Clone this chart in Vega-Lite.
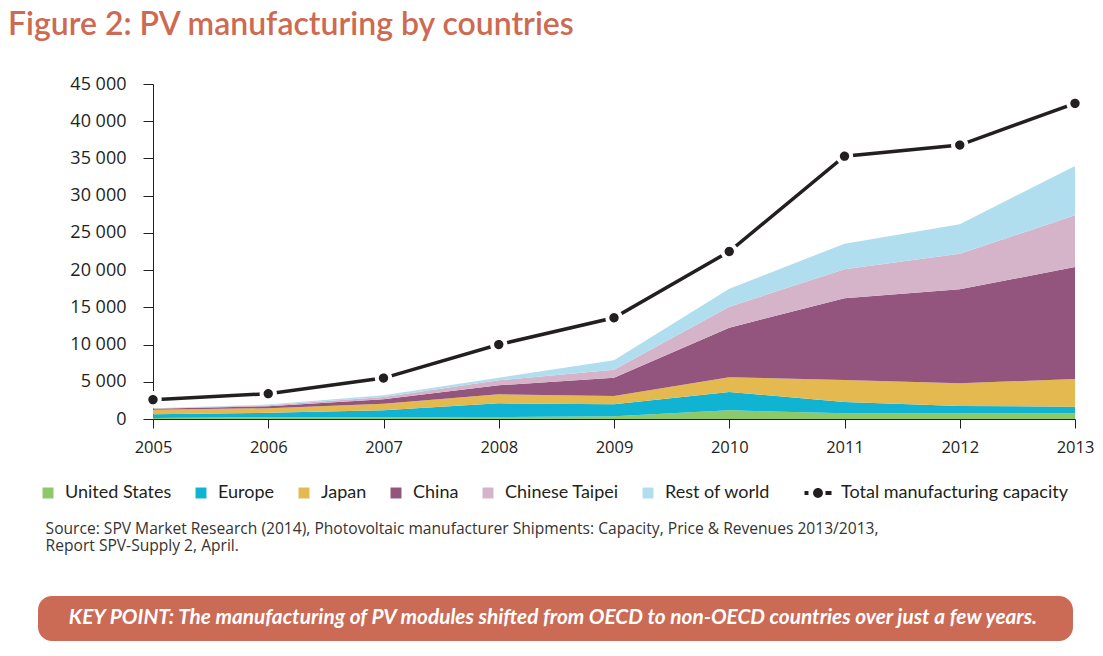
{
  "$schema": "https://vega.github.io/schema/vega-lite/v6.json",
  "background": "white",
  "padding": {"left": 8, "top": 9, "right": 5, "bottom": 5},
  "config": {
    "view": {"stroke": null},
    "font": "Lato"
  },
  "title": {
    "text": "Figure 2: PV manufacturing by countries",
    "anchor": "start",
    "font": "Lato",
    "fontSize": 32,
    "fontWeight": 600,
    "color": "#CD6A52",
    "offset": 33,
    "dx": -30
  },
  "datasets": {
    "regions": [
      {"year": 2005, "region": "United States", "value": 150},
      {"year": 2005, "region": "Europe", "value": 500},
      {"year": 2005, "region": "Japan", "value": 590},
      {"year": 2005, "region": "China", "value": 130},
      {"year": 2005, "region": "Chinese Taipei", "value": 40},
      {"year": 2005, "region": "Rest of world", "value": 40},
      {"year": 2006, "region": "United States", "value": 240},
      {"year": 2006, "region": "Europe", "value": 590},
      {"year": 2006, "region": "Japan", "value": 620},
      {"year": 2006, "region": "China", "value": 270},
      {"year": 2006, "region": "Chinese Taipei", "value": 130},
      {"year": 2006, "region": "Rest of world", "value": 100},
      {"year": 2007, "region": "United States", "value": 230},
      {"year": 2007, "region": "Europe", "value": 940},
      {"year": 2007, "region": "Japan", "value": 890},
      {"year": 2007, "region": "China", "value": 590},
      {"year": 2007, "region": "Chinese Taipei", "value": 310},
      {"year": 2007, "region": "Rest of world", "value": 220},
      {"year": 2008, "region": "United States", "value": 270},
      {"year": 2008, "region": "Europe", "value": 1840},
      {"year": 2008, "region": "Japan", "value": 1210},
      {"year": 2008, "region": "China", "value": 1210},
      {"year": 2008, "region": "Chinese Taipei", "value": 670},
      {"year": 2008, "region": "Rest of world", "value": 350},
      {"year": 2009, "region": "United States", "value": 360},
      {"year": 2009, "region": "Europe", "value": 1610},
      {"year": 2009, "region": "Japan", "value": 1120},
      {"year": 2009, "region": "China", "value": 2460},
      {"year": 2009, "region": "Chinese Taipei", "value": 1070},
      {"year": 2009, "region": "Rest of world", "value": 1270},
      {"year": 2010, "region": "United States", "value": 1170},
      {"year": 2010, "region": "Europe", "value": 2460},
      {"year": 2010, "region": "Japan", "value": 1970},
      {"year": 2010, "region": "China", "value": 6670},
      {"year": 2010, "region": "Chinese Taipei", "value": 2820},
      {"year": 2010, "region": "Rest of world", "value": 2410},
      {"year": 2011, "region": "United States", "value": 770},
      {"year": 2011, "region": "Europe", "value": 1510},
      {"year": 2011, "region": "Japan", "value": 2960},
      {"year": 2011, "region": "China", "value": 10970},
      {"year": 2011, "region": "Chinese Taipei", "value": 3900},
      {"year": 2011, "region": "Rest of world", "value": 3440},
      {"year": 2012, "region": "United States", "value": 770},
      {"year": 2012, "region": "Europe", "value": 980},
      {"year": 2012, "region": "Japan", "value": 3050},
      {"year": 2012, "region": "China", "value": 12620},
      {"year": 2012, "region": "Chinese Taipei", "value": 4780},
      {"year": 2012, "region": "Rest of world", "value": 3950},
      {"year": 2013, "region": "United States", "value": 770},
      {"year": 2013, "region": "Europe", "value": 880},
      {"year": 2013, "region": "Japan", "value": 3720},
      {"year": 2013, "region": "China", "value": 15050},
      {"year": 2013, "region": "Chinese Taipei", "value": 6940},
      {"year": 2013, "region": "Rest of world", "value": 6630}
    ],
    "totals": [
      {"year": 2005, "series": "Total manufacturing capacity", "total": 2600},
      {"year": 2006, "series": "Total manufacturing capacity", "total": 3400},
      {"year": 2007, "series": "Total manufacturing capacity", "total": 5500},
      {"year": 2008, "series": "Total manufacturing capacity", "total": 10000},
      {"year": 2009, "series": "Total manufacturing capacity", "total": 13600},
      {"year": 2010, "series": "Total manufacturing capacity", "total": 22500},
      {"year": 2011, "series": "Total manufacturing capacity", "total": 35300},
      {"year": 2012, "series": "Total manufacturing capacity", "total": 36800},
      {"year": 2013, "series": "Total manufacturing capacity", "total": 42400}
    ],
    "notes": [
      {"year": 2005, "total": 2600, "source": "Source: SPV Market Research (2014), Photovoltaic manufacturer Shipments: Capacity, Price & Revenues 2013/2013,|Report SPV-Supply 2, April.", "keypoint": "KEY POINT: The manufacturing of PV modules shifted from OECD to non-OECD countries over just a few years."}
    ]
  },
  "width": 922,
  "height": 335,
  "layer": [
    {
      "data": {"name": "regions"},
      "transform": [
        {"calculate": "indexof(['United States','Europe','Japan','China','Chinese Taipei','Rest of world'], datum.region)", "as": "stackorder"}
      ],
      "mark": {"type": "area", "interpolate": "linear"},
      "encoding": {
        "x": {
          "field": "year", "type": "quantitative",
          "scale": {"domain": [2005, 2013], "nice": false, "zero": false},
          "axis": {
            "title": null, "values": [2005, 2006, 2007, 2008, 2009, 2010, 2011, 2012, 2013],
            "format": "d", "grid": false, "labelFont": "Open Sans", "labelFontSize": 16.5, "labelColor": "#231F20",
            "tickSize": 9, "tickColor": "#231F20", "domainColor": "#231F20",
            "labelPadding": 11, "labelFlush": false, "labelOverlap": false
          }
        },
        "y": {
          "field": "value", "type": "quantitative", "stack": "zero",
          "scale": {"domain": [0, 45000], "nice": false},
          "axis": {
            "title": null, "values": [0, 5000, 10000, 15000, 20000, 25000, 30000, 35000, 40000, 45000],
            "tickCount": 10,
            "labelExpr": "replace(format(datum.value, ',d'), ',', ' ')",
            "grid": false, "labelFont": "Open Sans", "labelFontSize": 18, "labelColor": "#231F20",
            "tickSize": 10, "tickColor": "#231F20", "domainColor": "#231F20",
            "labelPadding": 17, "labelOverlap": false, "labelBound": false, "labelSeparation": 0
          }
        },
        "order": {"field": "stackorder", "type": "quantitative", "sort": "ascending"},
        "color": {
          "field": "region", "type": "nominal",
          "scale": {
            "domain": ["United States", "Europe", "Japan", "China", "Chinese Taipei", "Rest of world"],
            "range": ["#8DC968", "#11B3D3", "#E4B94F", "#93547D", "#D5B4C9", "#B1DEEE"]
          },
          "legend": {
            "title": null, "orient": "none", "direction": "horizontal",
            "legendX": -114, "legendY": 400,
            "symbolType": "square", "symbolSize": 120, "symbolStrokeWidth": 0,
            "labelFont": "Lato", "labelFontSize": 18, "labelColor": "#231F20", "labelOffset": 8,
            "columnPadding": 20, "columns": 6
          }
        }
      }
    },
    {
      "data": {"name": "totals"},
      "mark": {"type": "line", "color": "#231F20", "strokeWidth": 3.5},
      "encoding": {
        "x": {"field": "year", "type": "quantitative"},
        "y": {"field": "total", "type": "quantitative"}
      }
    },
    {
      "data": {"name": "totals"},
      "mark": {"type": "point", "filled": true, "fill": "#231F20", "stroke": "white", "strokeWidth": 4, "size": 177, "opacity": 1},
      "encoding": {
        "x": {"field": "year", "type": "quantitative"},
        "y": {"field": "total", "type": "quantitative"},
        "strokeDash": {
          "field": "series", "type": "nominal",
          "scale": {"range": [[1, 0]]},
          "legend": {
            "title": null, "orient": "none", "legendX": 656, "legendY": 400,
            "labelFont": "Lato", "labelFontSize": 18, "labelColor": "#231F20", "labelOffset": 14, "labelLimit": 400,
            "symbolType": "M-2.2,-0.33H-1.55V0.33H-2.2Z M1.22,-0.33H2.2V0.33H1.22Z M-0.8,0A0.8,0.8 0 1,0 0.8,0A0.8,0.8 0 1,0 -0.8,0Z",
            "symbolSize": 151, "symbolFillColor": "#231F20", "symbolStrokeWidth": 0, "symbolStrokeColor": "transparent"
          }
        }
      }
    },
    {
      "data": {"name": "notes"},
      "mark": {"type": "point", "opacity": 0, "size": 1},
      "encoding": {
        "x": {"field": "year", "type": "quantitative"},
        "y": {"field": "total", "type": "quantitative"},
        "shape": {
          "field": "keypoint", "type": "nominal",
          "scale": {"range": ["circle"]},
          "legend": {
            "title": "\u00a0", "titleOrient": "right", "titlePadding": 20, "titleFontSize": 4,
            "orient": "none", "legendX": -115, "legendY": 512,
            "fillColor": "#CB6A55", "cornerRadius": 14, "padding": 12, "strokeColor": null,
            "symbolOpacity": 0, "symbolSize": 64,
            "labelFont": "Lato", "labelFontStyle": "italic", "labelFontWeight": "bold",
            "labelFontSize": 20.8, "labelColor": "white", "labelOffset": -2, "labelLimit": 2000
          }
        },
        "stroke": {
          "field": "source", "type": "nominal",
          "scale": {"range": ["#231F20"]},
          "legend": {
            "title": null, "orient": "none", "legendX": -114, "legendY": 437,
            "symbolOpacity": 0, "symbolSize": 1, "labelOffset": -9, "labelLimit": 2000,
            "labelFont": "Open Sans", "labelFontSize": 15.6, "labelColor": "#333333",
            "labelExpr": "split(datum.label, '|')",
            "encode": {"labels": {"update": {"lineHeight": {"value": 21}}}}
          }
        }
      }
    }
  ]
}
